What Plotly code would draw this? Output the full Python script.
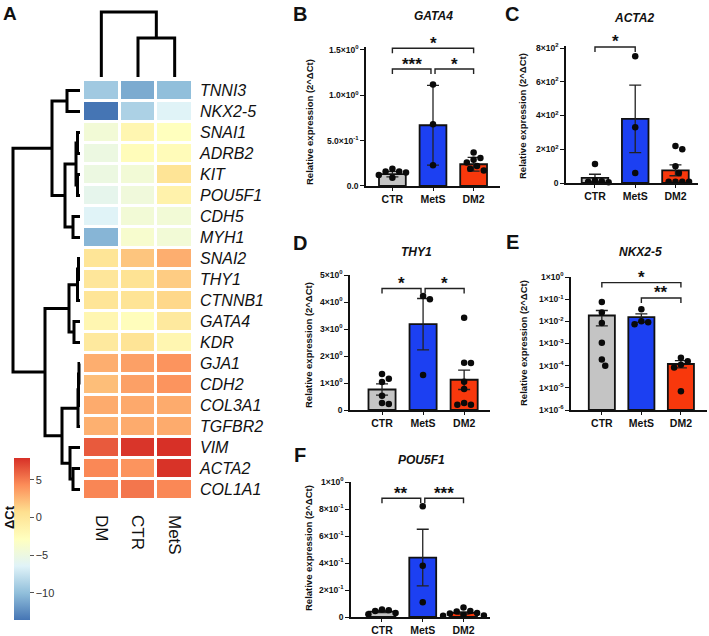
import numpy as np
import plotly.graph_objects as go

W, H = 709, 636
FONT = "Liberation Sans, Arial, sans-serif"

# ---------------- Panel A data ----------------
genes = ["TNNI3", "NKX2-5", "SNAI1", "ADRB2", "KIT", "POU5F1", "CDH5", "MYH1",
         "SNAI2", "THY1", "CTNNB1", "GATA4", "KDR", "GJA1", "CDH2", "COL3A1",
         "TGFBR2", "VIM", "ACTA2", "COL1A1"]
conditions = ["DM", "CTR", "MetS"]
dct_dm = [-9.3, -13.6, -4.3, -5.0, -5.0, -5.7, -6.4, -10.5, 0.2, 0.0,
          0.2, -1.8, -0.3, 2.9, 2.2, 3.0, 2.8, 6.3, 4.5, 4.6]
dct_ctr = [-11.0, -8.8, -1.8, -2.5, -4.3, -4.6, -4.3, -3.8, 1.9, 0.4,
           0.3, -2.6, 0.3, 3.5, 3.5, 3.1, 3.0, 7.7, 4.0, 5.2]
dct_mets = [-10.0, -6.4, -2.8, -2.4, 0.3, -1.3, -4.3, -4.3, 2.9, 1.6,
            1.1, -0.3, -1.8, 4.0, 4.0, 3.0, 3.0, 7.9, 7.8, 4.5]
colorbar_ticks = [-10, -5, 0, 5]

# dendrograms: (left, right, merge height)
row_tree = (((0, 1, 13), (((2, 3, 2.5), (4, 5, 2.5), 4), (6, 7, 7), 15), 28),
            ((((8, 9, 1.5), 10, 2.5), (11, 12, 6), 11),
             ((((13, 14, 1), 15, 1.5), 16, 2), (17, (18, 19, 7), 10), 18), 35), 67)
col_tree = (0, (1, 2, 39), 65)

# ---------------- Bar panels data ----------------
groups = ["CTR", "MetS", "DM2"]

gata4_ctr = [0.19, 0.16, 0.16, 0.15, 0.12, 0.09]
gata4_mets = [1.12, 0.68, 0.23]
gata4_dm2 = [0.37, 0.31, 0.29, 0.26, 0.22, 0.19, 0.17]
gata4_mean = [0.13, 0.67, 0.24]
gata4_err = [0.03, 0.44, 0.075]
gata4_sig = [(0, 2, 1.52, "*"), (0, 1, 1.29, "***"), (1, 2, 1.29, "*")]
gata4_ticks = [0, 0.5, 1.0, 1.5]
gata4_ticktext = ["0.0", "5.0×10<sup>-1</sup>", "1.0×10<sup>0</sup>", "1.5×10<sup>0</sup>"]

acta2_ctr = [112, 15, 10, 8, 5]
acta2_mets = [751, 331, 59]
acta2_dm2 = [219, 200, 100, 60, 8, 8, 8, 8]
acta2_mean = [30, 380, 75]
acta2_err = [22, 200, 32]
acta2_sig = [(0, 1, 806, "*")]
acta2_ticks = [0, 200, 400, 600, 800]
acta2_ticktext = ["0", "2×10<sup>2</sup>", "4×10<sup>2</sup>", "6×10<sup>2</sup>", "8×10<sup>2</sup>"]

thy1_ctr = [1.33, 1.16, 1.04, 0.53, 0.26, 0.22]
thy1_mets = [4.22, 4.1, 1.3]
thy1_dm2 = [3.42, 1.75, 1.74, 1.05, 0.78, 0.26, 0.19, 0.19]
thy1_mean = [0.76, 3.18, 1.12]
thy1_err = [0.21, 0.95, 0.36]
thy1_sig = [(0, 1, 4.5, "*"), (1, 2, 4.5, "*")]
thy1_ticks = [0, 1, 2, 3, 4, 5]
thy1_ticktext = ["0", "1×10<sup>0</sup>", "2×10<sup>0</sup>", "3×10<sup>0</sup>",
                 "4×10<sup>0</sup>", "5×10<sup>0</sup>"]

nkx25_ctr = [0.075, 0.025, 0.0085, 0.00107, 0.00019, 0.0001]
nkx25_mets = [0.035, 0.01, 0.009, 0.0074]
nkx25_dm2 = [0.00023, 0.00016, 0.00011, 0.000083, 0.000007]
nkx25_mean = [0.0183, 0.0154, 0.000118]
nkx25_err_up = [0.0125, 0.0065, 0.00005]
nkx25_err_dn = [0.012, 0.0065, 0.00004]
nkx25_sig = [(0, 2, 0.56, "*"), (1, 2, 0.113, "**")]
nkx25_ticks = [1e-6, 1e-5, 1e-4, 1e-3, 1e-2, 1e-1, 1e0]
nkx25_ticktext = ["1×10<sup>-6</sup>", "1×10<sup>-5</sup>", "1×10<sup>-4</sup>", "1×10<sup>-3</sup>",
                  "1×10<sup>-2</sup>", "1×10<sup>-1</sup>", "1×10<sup>0</sup>"]

pou5f1_ctr = [0.055, 0.05, 0.045, 0.03, 0.02]
pou5f1_mets = [0.82, 0.38, 0.11]
pou5f1_dm2 = [0.07, 0.045, 0.04, 0.03, 0.025, 0.015, 0.012, 0.01]
pou5f1_mean = [0.04, 0.44, 0.03]
pou5f1_err = [0.008, 0.21, 0.008]
pou5f1_sig = [(0, 1, 0.88, "**"), (1, 2, 0.88, "***")]
pou5f1_ticks = [0, 0.2, 0.4, 0.6, 0.8, 1.0]
pou5f1_ticktext = ["0", "2×10<sup>-1</sup>", "4×10<sup>-1</sup>", "6×10<sup>-1</sup>",
                   "8×10<sup>-1</sup>", "1×10<sup>0</sup>"]

# ---------------- helpers ----------------
def px(x):
    return x / W


def py(y):
    return 1 - y / H


def dendro(node):
    if isinstance(node, int):
        return float(node), 0.0, []
    l, r, h = node
    pl, hl, sl = dendro(l)
    pr, hr, sr = dendro(r)
    return (pl + pr) / 2, h, sl + sr + [[(pl, hl), (pl, h), (pr, h), (pr, hr)]]


def swarm_offsets(ypix, d=6.8, step=3.4):
    order = np.argsort(ypix)[::-1]
    placed, offs = [], np.zeros(len(ypix))
    for i in order:
        k = 0
        while True:
            cands = [0.0] if k == 0 else [k * step, -k * step]
            ok = None
            for c in cands:
                if all((c - a) ** 2 + (ypix[i] - b) ** 2 >= d * d for a, b in placed):
                    ok = c
                    break
            if ok is not None:
                break
            k += 1
        offs[i] = ok
        placed.append((ok, ypix[i]))
    return offs


fig = go.Figure()
layout = {}
annotations = []

# ---------------- Heatmap ----------------
z = [[a, b, c] for a, b, c in zip(dct_dm, dct_ctr, dct_mets)]
all_vals = dct_dm + dct_ctr + dct_mets
pal = ["#4575B4", "#91BFDB", "#E0F3F8", "#FFFFBF", "#FEE090", "#FC8D59", "#D73027"]
cscale = [[i / 6, c] for i, c in enumerate(pal)]
fig.add_trace(go.Heatmap(
    z=z, x=[0, 1, 2], y=list(range(len(genes))), colorscale=cscale,
    zmin=min(all_vals), zmax=max(all_vals), xgap=3, ygap=3, hoverinfo="skip",
    colorbar=dict(x=px(14), xanchor="left", y=py(620), yanchor="bottom",
                  len=162 / H, lenmode="fraction", thickness=16, outlinewidth=0,
                  xpad=0, ypad=0, tickvals=colorbar_ticks, ticks="outside",
                  ticklen=4, tickcolor="#555",
                  tickfont=dict(family=FONT, size=11, color="#333")),
    xaxis="x", yaxis="y"))
hm_dom_x = [px(83), px(193)]
hm_dom_y = [py(500), py(80)]
layout["xaxis"] = dict(domain=hm_dom_x, range=[-0.5, 2.5], tickvals=[0, 1, 2],
                       ticktext=conditions, tickangle=90, ticks="", showline=False,
                       showgrid=False, zeroline=False, anchor="y", ticklabelstandoff=14,
                       tickfont=dict(family=FONT, size=17, color="#111"))
layout["yaxis"] = dict(domain=hm_dom_y, range=[len(genes) - 0.5, -0.5],
                       tickvals=list(range(len(genes))), ticktext=genes, side="right",
                       ticks="", showline=False, showgrid=False, zeroline=False,
                       anchor="x", ticklabelstandoff=6,
                       tickfont=dict(family=FONT, size=16, color="#111", style="italic"))

# top dendrogram
_, _, segs = dendro(col_tree)
xs, ys = [], []
for s in segs:
    for p, h in s:
        xs.append(p)
        ys.append(h)
    xs.append(None)
    ys.append(None)
fig.add_trace(go.Scatter(x=xs, y=ys, mode="lines", line=dict(color="black", width=3),
                         xaxis="x2", yaxis="y2", hoverinfo="skip"))
layout["xaxis2"] = dict(domain=hm_dom_x, range=[-0.5, 2.5], visible=False, anchor="y2")
layout["yaxis2"] = dict(domain=[py(79), py(8)], range=[-2, 69], visible=False, anchor="x2")

# left dendrogram
_, _, segs = dendro(row_tree)
xs, ys = [], []
for s in segs:
    for p, h in s:
        xs.append(h)
        ys.append(p)
    xs.append(None)
    ys.append(None)
fig.add_trace(go.Scatter(x=xs, y=ys, mode="lines", line=dict(color="black", width=3),
                         xaxis="x3", yaxis="y3", hoverinfo="skip"))
layout["xaxis3"] = dict(domain=[px(8), px(82)], range=[72, -2], visible=False, anchor="y3")
layout["yaxis3"] = dict(domain=hm_dom_y, range=[len(genes) - 0.5, -0.5], visible=False, anchor="x3")

annotations.append(dict(text="<b>ΔCt</b>", x=px(9), y=py(517), xref="paper", yref="paper",
                        textangle=-90, showarrow=False, xanchor="center", yanchor="middle",
                        font=dict(family=FONT, size=13, color="#111")))
annotations.append(dict(text="<b>A</b>", x=px(10), y=py(13), xref="paper", yref="paper",
                        showarrow=False, xanchor="center", yanchor="middle",
                        font=dict(family=FONT, size=19, color="#111")))

# ---------------- Bar panels ----------------
bar_colors = ["#c4c4c4", "#1c40f2", "#f8380c"]
panels = [
    dict(letter="B", gene="GATA4", pts=[gata4_ctr, gata4_mets, gata4_dm2], mean=gata4_mean,
         eu=gata4_err, ed=gata4_err, sig=gata4_sig, ticks=gata4_ticks, tt=gata4_ticktext,
         log=False, box=(366, 500, 50, 186), xr=(-0.65, 2.65), ymax=1.535,
         letter_xy=(300, 14), title_xy=(433, 16), ytitle_xy=(309, 122)),
    dict(letter="C", gene="ACTA2", pts=[acta2_ctr, acta2_mets, acta2_dm2], mean=acta2_mean,
         eu=acta2_err, ed=acta2_err, sig=acta2_sig, ticks=acta2_ticks, tt=acta2_ticktext,
         log=False, box=(566, 698, 48, 183), xr=(-0.72, 2.56), ymax=812,
         letter_xy=(512, 14), title_xy=(634, 18), ytitle_xy=(523, 116)),
    dict(letter="D", gene="THY1", pts=[thy1_ctr, thy1_mets, thy1_dm2], mean=thy1_mean,
         eu=thy1_err, ed=thy1_err, sig=thy1_sig, ticks=thy1_ticks, tt=thy1_ticktext,
         log=False, box=(350, 490, 275, 410), xr=(-0.78, 2.63), ymax=5,
         letter_xy=(300, 243), title_xy=(416, 252), ytitle_xy=(308, 345)),
    dict(letter="E", gene="NKX2-5", pts=[nkx25_ctr, nkx25_mets, nkx25_dm2], mean=nkx25_mean,
         eu=nkx25_err_up, ed=nkx25_err_dn, sig=nkx25_sig, ticks=nkx25_ticks, tt=nkx25_ticktext,
         log=True, box=(571, 707, 277, 410), xr=(-0.78, 2.66), ymax=1.0,
         letter_xy=(512, 242), title_xy=(640, 252), ytitle_xy=(523, 343)),
    dict(letter="F", gene="POU5F1", pts=[pou5f1_ctr, pou5f1_mets, pou5f1_dm2], mean=pou5f1_mean,
         eu=pou5f1_err, ed=pou5f1_err, sig=pou5f1_sig, ticks=pou5f1_ticks, tt=pou5f1_ticktext,
         log=False, box=(351, 490, 482, 617), xr=(-0.76, 2.65), ymax=1.0,
         letter_xy=(300, 455), title_xy=(421, 460), ytitle_xy=(308, 548)),
]

for k, P in enumerate(panels):
    ax = k + 4
    xa, ya = f"x{ax}", f"y{ax}"
    log = P["log"]
    tf = (lambda v: np.log10(v)) if log else (lambda v: v)
    x0, x1, ytop, ybot = P["box"]
    t0, t1 = tf(P["ticks"][0]), tf(P["ticks"][-1])
    ppu = (ybot - ytop) / (t1 - t0)
    tmax = tf(P["ymax"])
    dom_top_px = ytop - (tmax - t1) * ppu
    ppx = (x1 - x0) / (P["xr"][1] - P["xr"][0])

    bar_kw = dict(base=P["ticks"][0]) if log else {}
    fig.add_trace(go.Bar(
        x=[0, 1, 2], y=P["mean"], width=0.66, marker=dict(color=bar_colors, line=dict(color="#111", width=1.8)),
        error_y=dict(type="data", array=P["eu"], arrayminus=P["ed"], symmetric=False,
                     color="#222", thickness=1.3, width=6),
        xaxis=xa, yaxis=ya, hoverinfo="skip", **bar_kw))

    for g, vals in enumerate(P["pts"]):
        yp = np.array([tf(v) for v in vals]) * ppu
        offs = swarm_offsets(yp) / ppx
        fig.add_trace(go.Scatter(x=g + offs, y=vals, mode="markers",
                                 marker=dict(color="#0a0a0a", size=6.5),
                                 xaxis=xa, yaxis=ya, hoverinfo="skip", cliponaxis=False))

    # significance brackets
    bx, by = [], []
    levels = {}
    for (a, b, lev, lab) in P["sig"]:
        levels.setdefault(round(tf(lev), 4), []).append((a, b))
    for (a, b, lev, lab) in P["sig"]:
        same = levels[round(tf(lev), 4)]
        xa0, xb0 = float(a), float(b)
        if len(same) > 1:
            if any(s[0] == b for s in same if s != (a, b)):
                xb0 -= 0.05
            if any(s[1] == a for s in same if s != (a, b)):
                xa0 += 0.05
        tl = tf(lev)
        drop = tl - 5 / ppu
        inv = (lambda t: 10 ** t) if log else (lambda t: t)
        bx += [xa0, xa0, xb0, xb0, None]
        by += [inv(drop), inv(tl), inv(tl), inv(drop), None]
        annotations.append(dict(text=f"<b>{lab}</b>", x=(xa0 + xb0) / 2, y=tl, xref=xa, yref=ya,
                                showarrow=False, xanchor="center", yanchor="middle", yshift=5,
                                font=dict(family=FONT, size=17, color="#111")))
    fig.add_trace(go.Scatter(x=bx, y=by, mode="lines", line=dict(color="#222", width=1.4),
                             xaxis=xa, yaxis=ya, hoverinfo="skip"))

    layout[f"xaxis{ax}"] = dict(domain=[px(x0), px(x1)], range=list(P["xr"]), anchor=ya,
                                tickvals=[0, 1, 2], ticktext=groups, ticks="outside", ticklen=3,
                                tickwidth=1.4, tickcolor="#111", showline=True, linecolor="#111",
                                linewidth=1.6, showgrid=False, zeroline=False,
                                tickfont=dict(family=FONT, size=10.5, color="#111", weight="bold"))
    yax = dict(domain=[py(ybot), py(dom_top_px)], anchor=xa, tickvals=P["ticks"],
               ticktext=P["tt"], ticks="outside", ticklen=4, tickwidth=1.4, tickcolor="#111",
               showline=True, linecolor="#111", linewidth=1.6, showgrid=False, zeroline=False,
               tickfont=dict(family=FONT, size=8.5, color="#111", weight="bold"))
    if log:
        yax.update(type="log", range=[t0, tmax])
    else:
        yax.update(range=[t0, tmax])
    layout[f"yaxis{ax}"] = yax

    lx, ly = P["letter_xy"]
    annotations.append(dict(text=f"<b>{P['letter']}</b>", x=px(lx), y=py(ly), xref="paper", yref="paper",
                            showarrow=False, xanchor="center", yanchor="middle",
                            font=dict(family=FONT, size=20, color="#111")))
    tx, ty = P["title_xy"]
    annotations.append(dict(text=f"<b><i>{P['gene']}</i></b>", x=px(tx), y=py(ty), xref="paper", yref="paper",
                            showarrow=False, xanchor="center", yanchor="middle",
                            font=dict(family=FONT, size=12, color="#111")))
    yx, yy = P["ytitle_xy"]
    annotations.append(dict(text="<b>Relative expression (2^ΔCt)</b>", x=px(yx), y=py(yy),
                            xref="paper", yref="paper", textangle=-90, showarrow=False,
                            xanchor="center", yanchor="middle",
                            font=dict(family=FONT, size=9.5, color="#111")))

fig.update_layout(**layout)
fig.update_layout(width=W, height=H, margin=dict(l=0, r=0, t=0, b=0, autoexpand=False),
                  paper_bgcolor="white", plot_bgcolor="white", showlegend=False,
                  annotations=annotations, bargap=0.3,
                  font=dict(family=FONT, color="#111"))
fig.update_xaxes(automargin=False)
fig.update_yaxes(automargin=False)
fig.write_html("out.html", config={"displayModeBar": False},
               post_script="document.body.style.margin='0px';document.body.style.overflow='hidden';")
